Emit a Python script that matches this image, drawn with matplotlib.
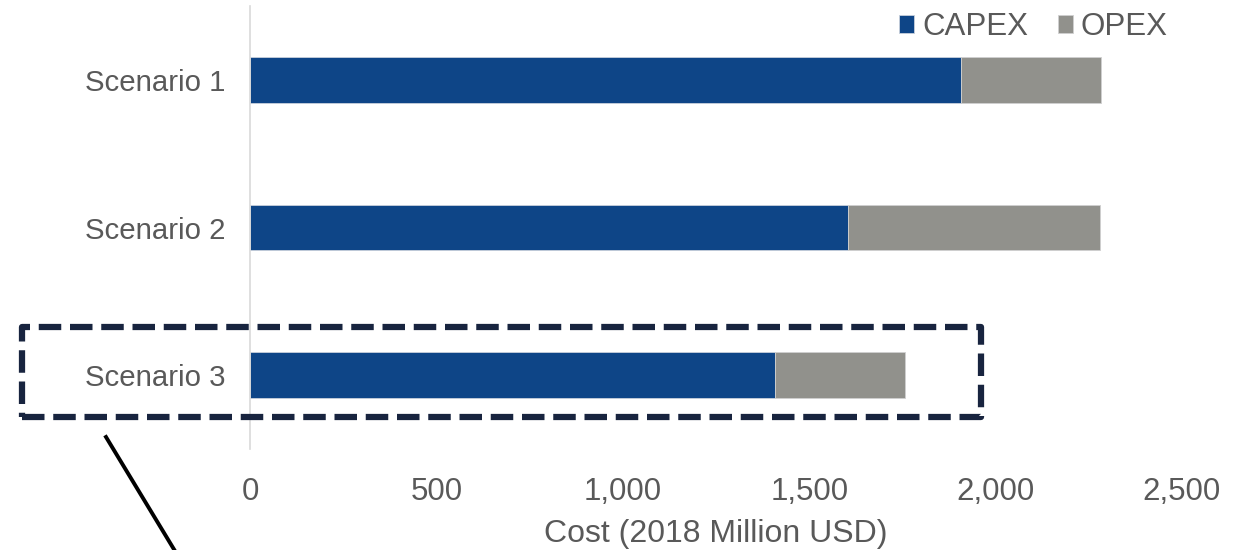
import matplotlib
matplotlib.use("Agg")
import matplotlib.pyplot as plt
from matplotlib.patches import Rectangle
from matplotlib.lines import Line2D
from matplotlib.ticker import FuncFormatter

scenarios = ["Scenario 1", "Scenario 2", "Scenario 3"]
capex = [1906, 1603, 1407]
opex = [378, 676, 349]
xticks = [0, 500, 1000, 1500, 2000, 2500]

plt.rcParams['font.family'] = ['Liberation Sans', 'DejaVu Sans']
text_color = "#595959"
capex_color = "#0E4587"
opex_color = "#91918C"

W, H = 1250, 550
fig = plt.figure(figsize=(12.5, 5.5), dpi=100)
ax = fig.add_axes([0.2, 0.1836, 0.7456, 0.8054])

y = list(range(len(scenarios)))
ax.barh(y, capex, height=0.31, color=capex_color, label="CAPEX",
        edgecolor="#c8d0dc", linewidth=0.6)
ax.barh(y, opex, left=capex, height=0.31, color=opex_color, label="OPEX",
        edgecolor="#d0d0d0", linewidth=0.6)

ax.set_ylim(2.5, -0.5)
ax.set_xlim(0, 2500)
ax.set_yticks(y)
ax.set_yticklabels(scenarios)
ax.set_xticks(xticks)
ax.xaxis.set_major_formatter(FuncFormatter(lambda v, p: f"{int(v):,}"))
ax.tick_params(axis='both', length=0, colors=text_color)
ax.tick_params(axis='y', pad=17.5, labelsize=21.2)
ax.tick_params(axis='x', pad=20, labelsize=22.5)
for s in ["top", "right", "bottom"]:
    ax.spines[s].set_visible(False)
ax.spines["left"].set_color("#D9D9D9")
ax.spines["left"].set_linewidth(1.2)
ax.set_xlabel("Cost (2018 Million USD)", fontsize=23, color=text_color, labelpad=8.5)

leg = fig.legend(*ax.get_legend_handles_labels(), loc="center right",
                 bbox_to_anchor=(1168 / W, 1 - 27 / H), ncol=2, frameon=False,
                 fontsize=22.5, handlelength=0.48, handleheight=0.48,
                 handletextpad=0.25, columnspacing=0.96, labelcolor=text_color,
                 borderpad=0, borderaxespad=0)

# Highlight box around Scenario 3 (figure pixel coordinates)
x0, y0, x1, y1 = 22, 327, 981, 417
rect = Rectangle((x0 / W, 1 - y1 / H), (x1 - x0) / W, (y1 - y0) / H,
                 transform=fig.transFigure, fill=False, edgecolor="#18243F",
                 linewidth=4.5, linestyle=(0, (3.6, 1.4)), joinstyle="round")
fig.add_artist(rect)

line = Line2D([106 / W, 178 / W], [1 - 437 / H, 1 - 556 / H],
              transform=fig.transFigure, color="black", linewidth=2.8)
fig.add_artist(line)

fig.savefig("out.png", dpi=100)
